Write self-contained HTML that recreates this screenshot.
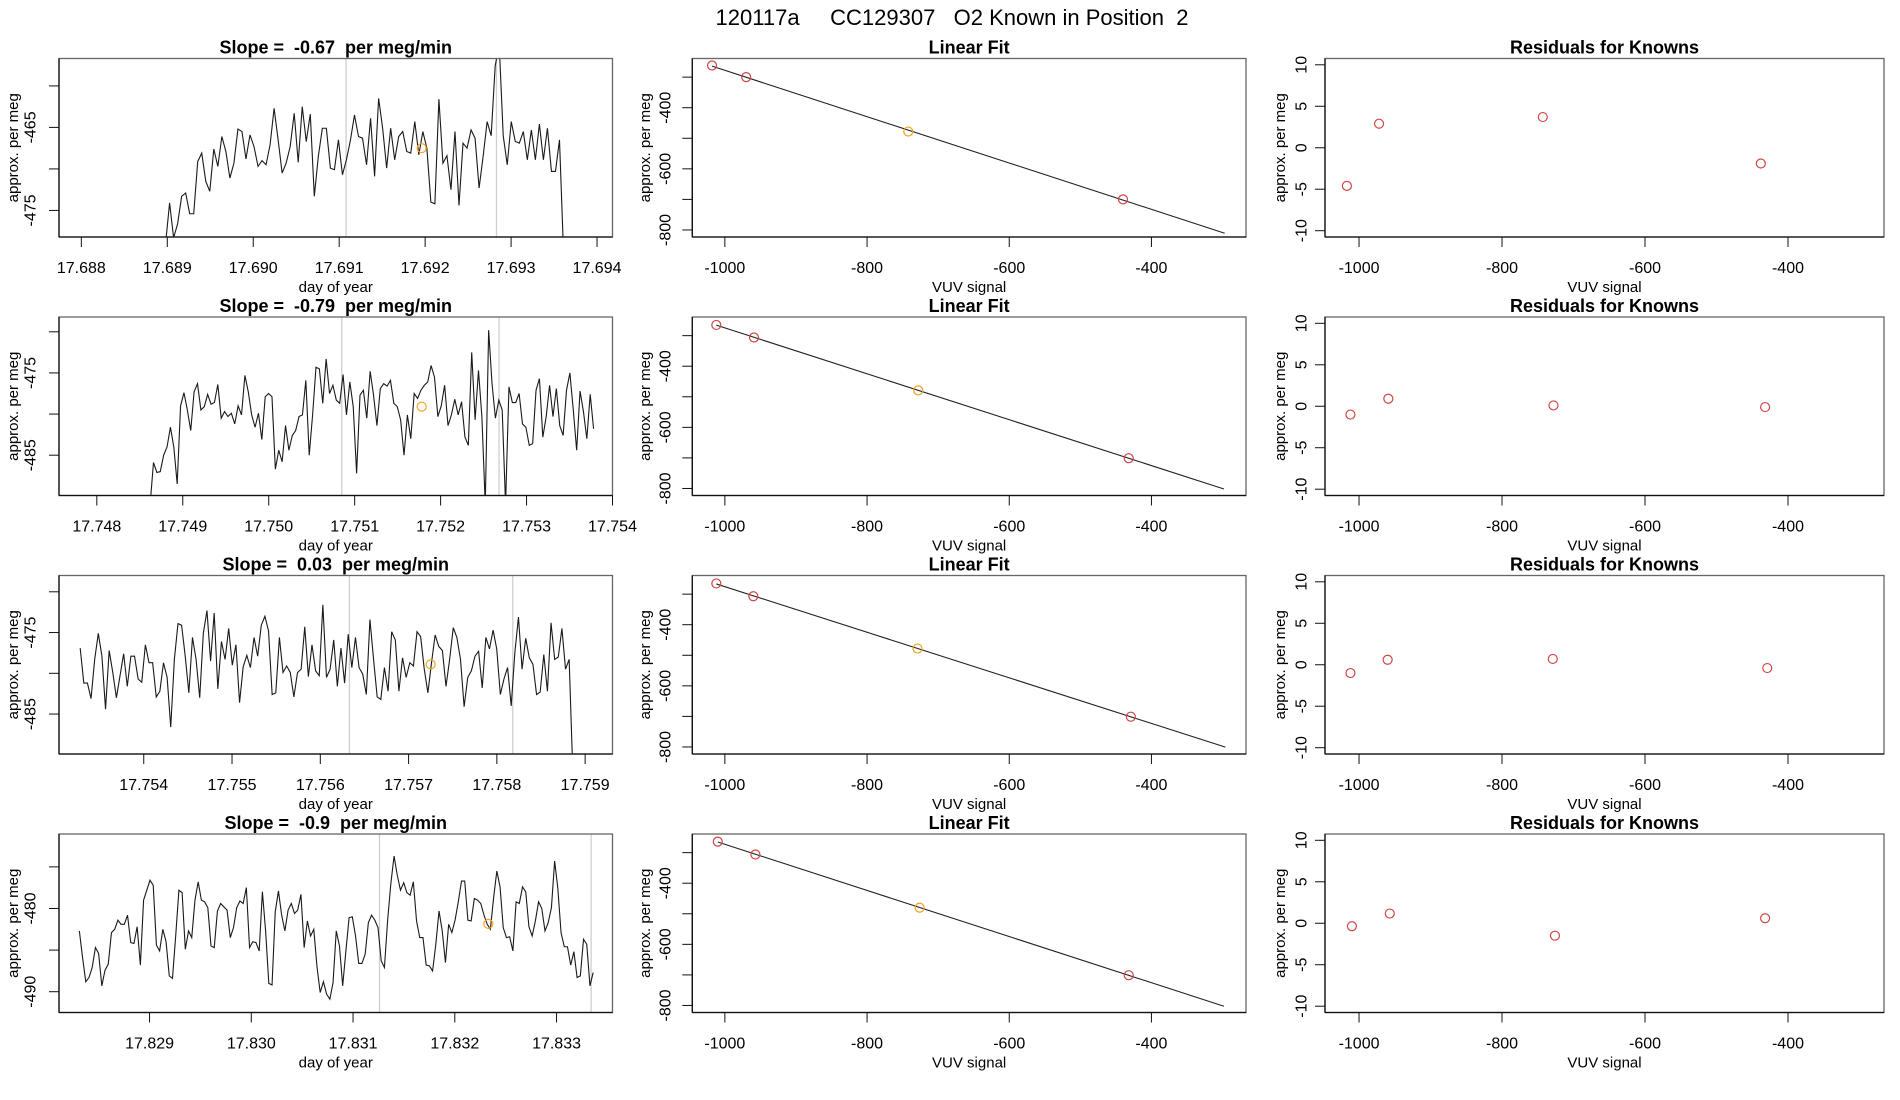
<!DOCTYPE html>
<html><head><meta charset="utf-8"><title>120117a CC129307 O2 Known in Position 2</title>
<style>html,body{margin:0;padding:0;background:#fff}svg{display:block}text{font-family:"Liberation Sans",Arial,sans-serif;fill:#000}</style>
</head><body>
<svg id="fig" width="1900" height="1100" viewBox="0 0 1900 1100" xmlns="http://www.w3.org/2000/svg">
<rect width="1900" height="1100" fill="#fff"/>
<text x="952" y="25" font-size="22" text-anchor="middle" xml:space="preserve">120117a     CC129307   O2 Known in Position  2</text>
</svg>
<script>
// ---- data ----
const slopeLabels = ["-0.67", "-0.79", "0.03", "-0.9"];
const timeStart = [17.68898, 17.74862, 17.75328, 17.82831];
const timeEnd = [17.69361, 17.75378, 17.75886, 17.83336];
const xDomains = [[17.68774, 17.69418], [17.74756, 17.75400], [17.75304, 17.75931], [17.82811, 17.83355]];
const yDomains = [[-478.2, -456.7], [-489.9, -468.2], [-489.9, -468.0], [-492.5, -471.05]];
const xTicks1 = ["17.688", "17.689", "17.690", "17.691", "17.692", "17.693", "17.694"];
const xTicks2 = ["17.748", "17.749", "17.750", "17.751", "17.752", "17.753", "17.754"];
const xTicks3 = ["17.754", "17.755", "17.756", "17.757", "17.758", "17.759"];
const xTicks4 = ["17.829", "17.830", "17.831", "17.832", "17.833"];
const yTicks1 = [-475, -470, -465, -460];
const yTicks2 = [-485, -480, -475, -470];
const yTicks3 = [-485, -480, -475, -470];
const yTicks4 = [-490, -485, -480, -475];
const yTickLabels1 = ["-475", "", "-465", ""];
const yTickLabels2 = ["-485", "", "-475", ""];
const yTickLabels3 = ["-485", "", "-475", ""];
const yTickLabels4 = ["-490", "", "-480", ""];
const grayLines = [[17.69108, 17.69283], [17.75085, 17.75268], [17.75633, 17.75818], [17.83126, 17.83334]];
const orangeT = [17.69196, 17.75178, 17.75725, 17.83233];
const orangeV = [-467.5, -479.1, -478.9, -481.85];
const series1 = [-479,-474.1,-478.3,-476.6,-473.3,-472.9,-475.4,-475.4,-469.1,-468.1,-471.5,-472.7,-467.6,-469.7,-466.1,-467.9,-471.1,-469.3,-465.2,-465.5,-468.8,-465.9,-467.3,-469.7,-469,-469.5,-467.1,-462.7,-466.5,-470.5,-469.3,-467.3,-463.3,-469.2,-462.5,-466.7,-463.4,-473.3,-468.5,-465.1,-465.1,-469.9,-470.1,-466.5,-470.7,-468.9,-466.5,-463.5,-466.1,-466.3,-469.5,-463.9,-470.9,-461.5,-465.1,-469.9,-465.1,-468.9,-466.1,-465.5,-467.9,-468.1,-464.3,-468.3,-465.5,-467.5,-474,-474.2,-461.6,-469.3,-468.4,-472.5,-465.5,-474.4,-466.9,-467.5,-465.3,-466.3,-472.3,-468.5,-464.3,-466,-457.6,-455,-466,-469.5,-464.3,-466.7,-466.9,-465.5,-468.9,-465.3,-468.9,-464.6,-468.9,-465.1,-470.3,-470.3,-466.5,-480];
const series2 = [-491,-485.9,-487.1,-487,-485,-484,-481.6,-484,-488.5,-479,-477.4,-479.5,-482,-477.3,-476.3,-479.5,-479.1,-477.6,-478.8,-478.6,-476.4,-480.5,-479.7,-480.3,-479.9,-481.2,-479,-480.1,-475.3,-477.3,-480.1,-481.6,-479.9,-483.1,-477.9,-477.5,-477.9,-486.7,-484.4,-485.8,-481.4,-484.4,-482.6,-482,-480.3,-480.1,-475.9,-485,-480.1,-474.3,-474.5,-478.7,-473.3,-477.5,-476.5,-478.3,-478.7,-475.2,-480.1,-476.1,-479.1,-487.2,-477.7,-477.1,-480.5,-474.8,-477.7,-481.4,-476.9,-476.3,-476.6,-475.9,-478.7,-479.1,-480.7,-485,-480.1,-483,-477.5,-478.1,-477.1,-476.5,-476.1,-474.1,-475.5,-480.3,-479,-476.5,-481.4,-480.1,-478.2,-480.1,-478.5,-482.8,-483.8,-472.5,-480.7,-474.7,-480.3,-491,-469.8,-476.3,-480.5,-478.3,-479.5,-491,-476.7,-478.6,-478.6,-477.5,-481.2,-481.6,-483.8,-483.6,-477.1,-475.7,-482.8,-480.3,-476.5,-480.3,-476.9,-481.4,-482.6,-477.1,-475,-479.5,-484.4,-477.2,-479.7,-483,-477.6,-481.8];
const series3 = [-476.9,-481.2,-481.2,-483.1,-478.3,-475.1,-477.9,-484.4,-477.2,-479.9,-483,-480.3,-477.6,-481.6,-477.9,-477.9,-480.7,-481.1,-476.5,-478.7,-478.7,-482.9,-482.2,-478.7,-480.5,-486.6,-478.3,-473.9,-474.1,-477.9,-482.4,-475.6,-478.3,-483,-475.1,-472.3,-478.5,-472.6,-481.9,-476.1,-478.3,-474.5,-479,-476.5,-483.6,-479.2,-477.8,-479.3,-475.6,-477.9,-474.1,-473,-474.8,-482.6,-482.4,-475.6,-479.9,-479.1,-479.9,-482.9,-479.9,-479.5,-474.3,-480.4,-476.5,-479.7,-480.3,-471.6,-480.5,-479.5,-475.9,-481.6,-476.9,-481.2,-475.2,-479.3,-475.6,-479.3,-480.1,-482.6,-473.4,-478.3,-482.9,-483.2,-479.3,-482.2,-474.9,-475.9,-482.2,-478.1,-480.5,-478.7,-479.1,-474.9,-475.5,-479.5,-482.4,-478.7,-475.3,-476.7,-477.2,-481.6,-478.3,-474.4,-475.6,-478.3,-484.1,-480.5,-479.7,-477.9,-477.3,-481.8,-475.6,-477,-474.7,-477,-482.6,-480.7,-479.3,-484,-477.5,-473.1,-479.5,-475.7,-478.1,-478.9,-482.6,-482.3,-477.7,-482.2,-473.8,-478.3,-478,-474.5,-479.5,-478.3,-492];
const series4 = [-482.7,-485.9,-488.8,-488.3,-487.1,-484.7,-485.4,-489.3,-487.4,-486.7,-482.9,-482.5,-481.4,-481.9,-481.9,-480.8,-484.1,-484.2,-482.2,-486.8,-479,-477.8,-476.6,-477.2,-484.4,-485.1,-482.5,-484,-488.1,-488.4,-483.3,-477.8,-478.1,-484.9,-482.7,-483.5,-479,-476.8,-479,-479.2,-479.9,-484.5,-484.7,-480.3,-479.4,-479.8,-480.2,-483.5,-482.3,-479.9,-479.1,-479.4,-477.5,-484.7,-484,-484.1,-485.1,-478,-482.7,-489,-489.2,-480.4,-477.9,-480.8,-482.7,-480.2,-479.4,-480.6,-480.2,-478.3,-484.7,-481.5,-483.3,-482.5,-487,-490.1,-488.8,-490.3,-490.9,-488.9,-482.7,-484.5,-489.3,-485.1,-481.1,-481,-483.3,-486.6,-486.6,-485.5,-481.7,-480.8,-481.4,-482.3,-486.3,-487.1,-481.4,-477,-473.7,-476,-477.8,-476.9,-478.1,-478.4,-476.8,-481.5,-483.5,-483.5,-486.8,-486.9,-487.5,-484.3,-480.3,-482.7,-486.5,-481.9,-482.9,-481.4,-479.2,-476.7,-476.7,-481.4,-481.5,-478.8,-479,-479.4,-480.8,-481.9,-482.5,-478.7,-475.5,-477.4,-482.3,-483.5,-483.4,-485.1,-479.2,-479.4,-477.4,-478,-482.2,-483.3,-481.5,-479.2,-480,-482.7,-481.7,-479.9,-474.3,-477.6,-482.9,-484.6,-484.6,-486.8,-485.2,-488.3,-488.1,-483.7,-484.3,-489.3,-487.7];
const knownX1 = [-1018, -970, -742, -440];
const knownY1 = [-262, -300, -478, -700];
const knownX2 = [-1012, -959, -728, -432];
const knownY2 = [-265, -306, -479, -701];
const knownX3 = [-1012, -960, -729, -429];
const knownY3 = [-265, -307, -478, -701];
const knownX4 = [-1010, -957, -726, -432];
const knownY4 = [-264, -306, -480, -701];
const orangeKnownIndex = [2, 2, 2, 2];
const fitXEnd = [-297, -298, -296, -298];
const resX1 = [-1017, -972, -743, -438];
const resid1 = [-4.6, 2.9, 3.7, -1.9];
const resid2 = [-1.0, 0.9, 0.1, -0.1];
const resid3 = [-1.0, 0.6, 0.7, -0.4];
const resid4 = [-0.36, 1.17, -1.5, 0.6];
const fitXTicks = [-1000, -800, -600, -400];
const fitYTicks = [-300, -400, -500, -600, -700, -800];
const fitYTickLabels = ["", "-400", "", "-600", "", "-800"];
const resYTicks = [10, 5, 0, -5, -10];
const fitYDomain = [-823, -239];
const fitXDomain = [-1045.8, -267];
const resXDomain = [-1047.6, -265.7];
const resYDomain = [-10.76, 10.76];

// ---- drawing ----
const NS = "http://www.w3.org/2000/svg";
const svg = document.getElementById("fig");
const rowTop = [58.5, 317, 575.5, 834];
const PH = 178.5;
const cols = [[59, 612.5], [692.3, 1246], [1325, 1884]];
function mk(tag, attrs, parent) {
  const e = document.createElementNS(NS, tag);
  for (const k in attrs) e.setAttribute(k, attrs[k]);
  (parent || svg).appendChild(e);
  return e;
}
function scale(d0, d1, r0, r1) { return v => r0 + (v - d0) / (d1 - d0) * (r1 - r0); }

const seriesAll = [series1, series2, series3, series4];
const xTickAll = [xTicks1, xTicks2, xTicks3, xTicks4];
const yTickAll = [yTicks1, yTicks2, yTicks3, yTicks4];
const yLabAll = [yTickLabels1, yTickLabels2, yTickLabels3, yTickLabels4];
const knownXAll = [knownX1, knownX2, knownX3, knownX4];
const knownYAll = [knownY1, knownY2, knownY3, knownY4];
const resXAll = [resX1, knownX2, knownX3, knownX4];
const residAll = [resid1, resid2, resid3, resid4];

function frame(g, L, R, T, B, name) {
  const r = mk("rect", {x: L, y: T, width: R - L, height: B - T, fill: "none", stroke: "#666", "stroke-width": 1.3}, g);
  
  
  mk("line", {x1: L, y1: B, x2: R, y2: B, stroke: "#111", "stroke-width": 1.3}, g);
  mk("line", {x1: L, y1: T, x2: L, y2: B, stroke: "#111", "stroke-width": 1.3}, g);
}
function xAxis(g, B, sx, vals, labels, name) {
  const a = mk("g", {}, g);
  
  
  const xs = vals.map(sx);
  mk("line", {x1: xs[0], y1: B, x2: xs[xs.length - 1], y2: B, stroke: "#111", "stroke-width": 1}, a);
  vals.forEach((v, i) => {
    mk("line", {x1: xs[i], y1: B, x2: xs[i], y2: B + 10, stroke: "#111", "stroke-width": 1}, a);
    const t = mk("text", {x: xs[i], y: B + 36, "font-size": 16, "text-anchor": "middle"}, a);
    t.textContent = labels[i];
  });
}
function yAxis(g, L, sy, vals, labels, labelX, name) {
  const a = mk("g", {}, g);
  
  
  const ys = vals.map(sy);
  mk("line", {x1: L, y1: ys[0], x2: L, y2: ys[ys.length - 1], stroke: "#111", "stroke-width": 1}, a);
  vals.forEach((v, i) => {
    mk("line", {x1: L - 10, y1: ys[i], x2: L, y2: ys[i], stroke: "#111", "stroke-width": 1}, a);
    if (labels[i]) {
      const t = mk("text", {x: labelX, y: ys[i], "font-size": 16, "text-anchor": "middle", "dominant-baseline": "central", transform: `rotate(-90 ${labelX} ${ys[i]})`}, a);
      t.textContent = labels[i];
    }
  });
}
function textAt(g, x, y, s, size, bold, rot, name) {
  const t = mk("text", {x: x, y: y, "font-size": size, "text-anchor": "middle"}, g);
  t.setAttributeNS("http://www.w3.org/XML/1998/namespace", "xml:space", "preserve");
  t.style.whiteSpace = "pre";
  if (bold) t.setAttribute("font-weight", "bold");
  if (rot) t.setAttribute("transform", `rotate(-90 ${x} ${y})`);
  
  
  t.textContent = s;
  return t;
}

for (let r = 0; r < 4; r++) {
  const T = rowTop[r], B = T + PH;
  // ---- time series panel ----
  {
    const [L, R] = cols[0];
    const g = mk("g", {});
    
    
    const sx = scale(xDomains[r][0], xDomains[r][1], L, R);
    const sy = scale(yDomains[r][0], yDomains[r][1], B, T);
    const cp = mk("clipPath", {id: "clipL" + r}, g);
    mk("rect", {x: L, y: T, width: R - L, height: PH}, cp);
    grayLines[r].forEach((v, i) => {
      const ln = mk("line", {x1: sx(v), y1: T, x2: sx(v), y2: B, stroke: "#cfcfcf", "stroke-width": 1.3}, g);
      
      
    });
    const vals = seriesAll[r];
    const n = vals.length;
    const pts = vals.map((v, i) => {
      const t = timeStart[r] + (timeEnd[r] - timeStart[r]) * i / (n - 1);
      return sx(t).toFixed(2) + "," + sy(v).toFixed(2);
    }).join(" ");
    const pl = mk("polyline", {points: pts, fill: "none", stroke: "#1a1a1a", "stroke-width": 1.1, "clip-path": `url(#clipL${r})`}, g);
    
    
    const oc = mk("circle", {cx: sx(orangeT[r]), cy: sy(orangeV[r]), r: 4.5, fill: "none", stroke: "#f5a623", "stroke-width": 1.2}, g);
    
    
    frame(g, L, R, T, B, 'time-series');
    const xv = xTickAll[r].map(Number);
    xAxis(g, B, sx, xv, xTickAll[r], 'x-axis');
    yAxis(g, L, sy, yTickAll[r], yLabAll[r], 31, 'y-axis');
    textAt(g, (L + R) / 2, T - 5, "Slope =  " + slopeLabels[r] + "  per meg/min", 18, true, false, 'slope-title');
    textAt(g, (L + R) / 2, B + 55, "day of year", 15, false, false, 'x-axis-title');
    textAt(g, 18, (T + B) / 2, "approx. per meg", 15, false, true, 'y-axis-title');
  }
  // ---- linear fit panel ----
  {
    const [L, R] = cols[1];
    const g = mk("g", {});
    
    
    const sx = scale(fitXDomain[0], fitXDomain[1], L, R);
    const sy = scale(fitYDomain[0], fitYDomain[1], B, T);
    const kx = knownXAll[r], ky = knownYAll[r];
    const n = kx.length;
    const mx = kx.reduce((a, b) => a + b, 0) / n, my = ky.reduce((a, b) => a + b, 0) / n;
    let sxy = 0, sxx = 0;
    for (let i = 0; i < n; i++) { sxy += (kx[i] - mx) * (ky[i] - my); sxx += (kx[i] - mx) ** 2; }
    const b = sxy / sxx, a = my - b * mx;
    const x0 = Math.min(...kx), x1 = fitXEnd[r];
    const fl = mk("line", {x1: sx(x0), y1: sy(a + b * x0), x2: sx(x1), y2: sy(a + b * x1), stroke: "#222", "stroke-width": 1.1}, g);
    
    
    for (let i = 0; i < n; i++) {
      const c = mk("circle", {cx: sx(kx[i]), cy: sy(ky[i]), r: 4.5, fill: "none", stroke: i === orangeKnownIndex[r] ? "#f0a020" : "#d04545", "stroke-width": 1.2}, g);
      
      
    }
    frame(g, L, R, T, B, 'linear-fit');
    xAxis(g, B, sx, fitXTicks, fitXTicks.map(String), 'x-axis');
    yAxis(g, L, sy, fitYTicks, fitYTickLabels, 666, 'y-axis');
    textAt(g, (L + R) / 2, T - 5, "Linear Fit", 18, true, false, 'fit-title');
    textAt(g, (L + R) / 2, B + 55, "VUV signal", 15, false, false, 'x-axis-title');
    textAt(g, 650, (T + B) / 2, "approx. per meg", 15, false, true, 'y-axis-title');
  }
  // ---- residual panel ----
  {
    const [L, R] = cols[2];
    const g = mk("g", {});
    
    
    const sx = scale(resXDomain[0], resXDomain[1], L, R);
    const sy = scale(resYDomain[0], resYDomain[1], B, T);
    const rx = resXAll[r], ry = residAll[r];
    for (let i = 0; i < rx.length; i++) {
      const c = mk("circle", {cx: sx(rx[i]), cy: sy(ry[i]), r: 4.5, fill: "none", stroke: "#d04545", "stroke-width": 1.2}, g);
      
      
    }
    frame(g, L, R, T, B, 'residuals');
    xAxis(g, B, sx, fitXTicks, fitXTicks.map(String), 'x-axis');
    yAxis(g, L, sy, resYTicks, resYTicks.map(String), 1302, 'y-axis');
    textAt(g, (L + R) / 2, T - 5, "Residuals for Knowns", 18, true, false, 'residuals-title');
    textAt(g, (L + R) / 2, B + 55, "VUV signal", 15, false, false, 'x-axis-title');
    textAt(g, 1285, (T + B) / 2, "approx. per meg", 15, false, true, 'y-axis-title');
  }
}
</script>
</body></html>
